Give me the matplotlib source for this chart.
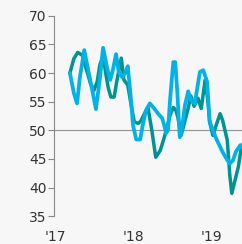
import matplotlib
matplotlib.use("Agg")
import matplotlib.pyplot as plt

# months since Jan 2017
blue_x = [2.3, 2.9, 3.4, 3.8, 4.5, 5.4, 6.3, 6.9, 7.4, 8.0, 8.5, 8.9, 9.4, 9.8,
          10.3, 10.8, 11.2, 11.7, 12.0, 12.5, 13.1, 13.5, 14.0, 14.6, 15.2, 15.8,
          16.5, 16.8, 17.1, 17.4, 17.7, 18.2, 18.5, 18.8, 19.2, 19.5, 20.0, 20.5,
          20.9, 21.5, 22.3, 22.8, 23.4, 23.8, 24.3, 24.9, 25.8, 26.5, 26.9, 27.4,
          27.8, 28.5, 28.9]
blue_y = [60.0, 56.5, 54.7, 59.0, 64.0, 58.9, 53.7, 59.0, 64.4, 61.0, 58.8, 60.5,
          63.3, 60.2, 59.3, 60.0, 61.2, 55.3, 50.9, 48.4, 48.4, 50.9, 53.5, 54.7,
          53.9, 53.0, 52.1, 50.9, 49.5, 50.1, 55.3, 61.9, 61.9, 57.0, 48.8, 50.0,
          54.4, 56.8, 55.3, 54.7, 60.2, 60.5, 58.5, 51.5, 50.0, 48.3, 46.2, 44.8,
          44.2, 44.8, 46.2, 47.4, 47.0]

teal_x = [2.3, 2.9, 3.5, 4.2, 4.6, 5.1, 5.5, 6.0, 6.5, 6.9, 7.4, 7.8, 8.2, 8.6,
          9.1, 9.5, 10.2, 10.6, 11.2, 11.7, 12.2, 12.8, 13.2, 13.8, 14.3, 14.9,
          15.5, 16.2, 16.9, 17.7, 18.2, 18.6, 18.9, 19.4, 20.0, 20.5, 20.9, 21.4,
          22.0, 22.5, 23.1, 23.5, 23.8, 24.3, 24.8, 25.4, 25.8, 26.5, 26.9, 27.2,
          27.7, 28.2, 28.6, 29.1]
teal_y = [60.0, 62.5, 63.6, 63.1, 61.5, 59.6, 58.0, 57.0, 58.5, 61.4, 63.0, 60.0,
          57.4, 55.8, 55.8, 58.5, 62.6, 58.8, 57.9, 54.5, 51.5, 51.2, 51.6, 53.0,
          54.0, 50.0, 45.3, 46.5, 49.1, 52.6, 54.0, 53.5, 52.3, 49.1, 51.7, 53.9,
          56.0, 54.2, 55.6, 53.8, 58.8, 55.3, 51.4, 49.1, 50.9, 52.9, 51.7, 48.3,
          42.1, 39.0, 41.3, 43.6, 46.5, 48.3]

x_ticks = [0, 12, 24]
x_labels = ["'17", "'18", "'19"]
y_ticks = [35, 40, 45, 50, 55, 60, 65, 70]

bg = "#f7f7f7"
fig = plt.figure(figsize=(2.42, 2.44), dpi=100, facecolor=bg)
ax = fig.add_axes([54 / 242, 1 - 216.3 / 244, 1 - 54 / 242, (216.3 - 15.7) / 244])
ax.set_facecolor(bg)

ax.axhline(50, color="#999999", lw=0.9, zorder=1)
ax.plot(teal_x, teal_y, color="#009390", lw=2.5, solid_joinstyle="round",
        solid_capstyle="round", zorder=2)
ax.plot(blue_x, blue_y, color="#00b3e6", lw=2.7, solid_joinstyle="round",
        solid_capstyle="round", zorder=3)

ax.set_ylim(35, 70)
ax.set_xlim(-0.15, 28.77)
ax.set_yticks(y_ticks)
ax.set_xticks(x_ticks)
ax.set_xticklabels(x_labels)

for s in ["top", "right", "bottom"]:
    ax.spines[s].set_visible(False)
ax.spines["left"].set_color("#888888")
ax.spines["left"].set_linewidth(0.8)
ax.tick_params(axis="y", length=4, width=0.8, color="#888888", labelsize=10,
               labelcolor="#333333", pad=1.5)
ax.tick_params(axis="x", length=0, labelsize=10, labelcolor="#333333", pad=10)

fig.savefig("out.png", dpi=100, facecolor=bg)
